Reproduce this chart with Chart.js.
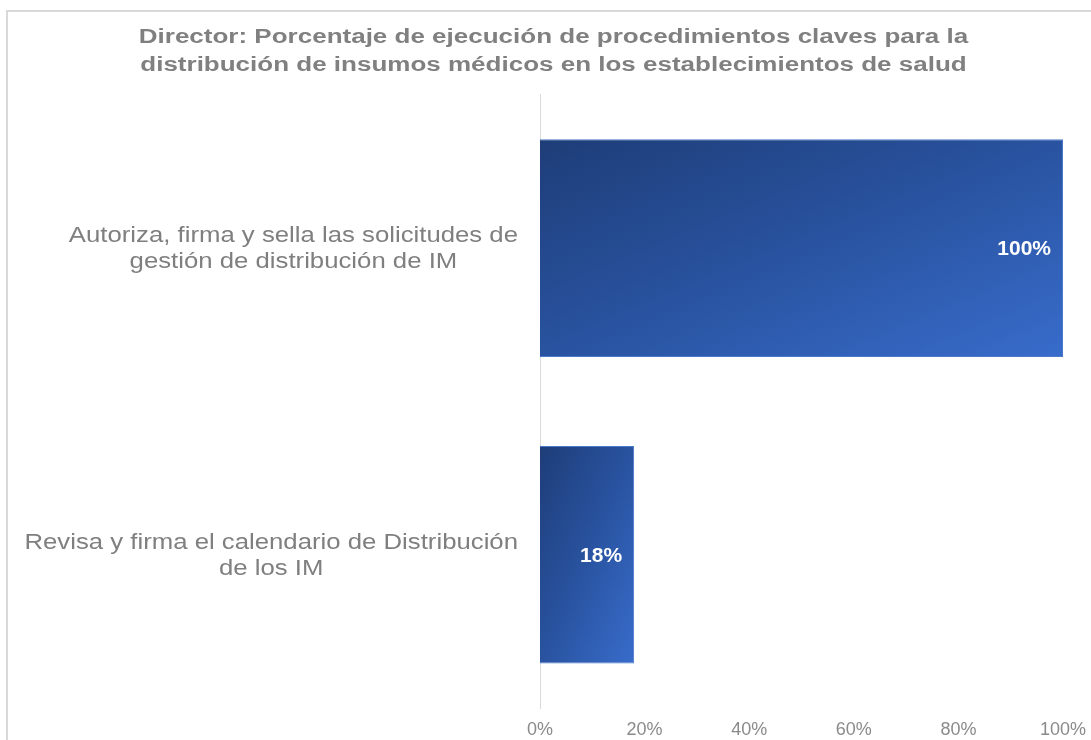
<!DOCTYPE html>
<html>
<head>
<meta charset="utf-8">
<script src="https://cdn.jsdelivr.net/npm/chart.js@4/dist/chart.umd.min.js"></script>
<style>
  html, body { margin: 0; padding: 0; background: #fff; }
  #wrap { position: relative; width: 1091px; height: 740px; }
</style>
</head>
<body>
<div id="wrap"><canvas id="chart"></canvas></div>
<script>
// chart data
const titleLines = [
  'Director: Porcentaje de ejecución de procedimientos claves para la',
  'distribución de insumos médicos en los establecimientos de salud'
];
const categories = [
  ['Autoriza, firma y sella las solicitudes de', 'gestión de distribución de IM'],
  ['Revisa y firma el calendario de Distribución', 'de los IM']
];
const values = [100, 18];
const xTicks = [0, 20, 40, 60, 80, 100];

const FONT = '"Liberation Sans", Arial, sans-serif';
const GREY = '#7f7f7f';
const BAR_PCT = 0.71;
// the source text is drawn a bit wider than the font's natural width
const TITLE_STRETCH = 1.3;
const CAT_STRETCH = 1.17;

// gradient per bar: dark top-left corner to lighter bottom-right corner
function barGradient(ctx) {
  const chart = ctx.chart;
  if (!chart.chartArea || ctx.type !== 'data') return '#2b559f';
  const xs = chart.scales.x, ys = chart.scales.y;
  const x0 = xs.getPixelForValue(0);
  const x1 = xs.getPixelForValue(ctx.raw);
  const yc = ys.getPixelForValue(ctx.dataIndex);
  const H = (ys.height / categories.length) * BAR_PCT;
  const W = x1 - x0;
  const cx = (x0 + x1) / 2;
  const k = W * H / (W * W + H * H);
  const g = chart.ctx.createLinearGradient(cx - H * k, yc - W * k, cx + H * k, yc + W * k);
  g.addColorStop(0, '#1e3d78');
  g.addColorStop(0.5, '#2953a0');
  g.addColorStop(1, '#386ccb');
  return g;
}

function stretchedText(c, text, x, y, sx) {
  c.save();
  c.translate(x, y);
  c.scale(sx, 1);
  c.fillText(text, 0, 0);
  c.restore();
}

const framePlugin = {
  id: 'frame',
  beforeDraw(chart) {
    const c = chart.ctx;
    c.save();
    c.strokeStyle = '#d9d9d9';
    c.lineWidth = 2;
    c.beginPath();
    c.moveTo(7, chart.height);
    c.lineTo(7, 11);
    c.lineTo(chart.width, 11);
    c.stroke();
    c.restore();
  }
};

// title is laid out by Chart.js (transparent) and painted here, stretched
const titlePainter = {
  id: 'titlePainter',
  afterDraw(chart) {
    const tb = chart.titleBlock;
    if (!tb) return;
    const c = chart.ctx;
    const cx = (tb.left + tb.right) / 2;
    c.save();
    c.font = 'bold 20px ' + FONT;
    c.fillStyle = '#808080';
    c.textAlign = 'center';
    c.textBaseline = 'middle';
    titleLines.forEach((l, j) => stretchedText(c, l, cx, tb.top + 23 + 14 + j * 28, TITLE_STRETCH));
    c.restore();
  }
};

// category labels: each block right-aligned, its lines centred
const catLabels = {
  id: 'catLabels',
  afterDraw(chart) {
    const c = chart.ctx, ys = chart.scales.y;
    c.save();
    c.font = '22px ' + FONT;
    c.fillStyle = GREY;
    c.textAlign = 'center';
    c.textBaseline = 'middle';
    categories.forEach((lines, i) => {
      const yc = ys.getPixelForValue(i);
      const w = Math.max(...lines.map(l => c.measureText(l).width)) * CAT_STRETCH;
      const cx = ys.right - 22 - w / 2;
      lines.forEach((l, j) => stretchedText(c, l, cx, yc + 1 + (j - (lines.length - 1) / 2) * 26, CAT_STRETCH));
    });
    c.restore();
  }
};

const valueLabels = {
  id: 'valueLabels',
  afterDatasetsDraw(chart) {
    const c = chart.ctx;
    const meta = chart.getDatasetMeta(0);
    c.save();
    c.font = 'bold 21px ' + FONT;
    c.fillStyle = '#ffffff';
    c.textAlign = 'right';
    c.textBaseline = 'middle';
    meta.data.forEach((bar, i) => {
      c.fillText(values[i] + '%', bar.x - 12, bar.y + 1);
    });
    c.restore();
  }
};

new Chart(document.getElementById('chart'), {
  type: 'bar',
  data: {
    labels: categories,
    datasets: [{
      data: values,
      backgroundColor: barGradient,
      borderColor: '#4a79cc',
      borderWidth: 1,
      categoryPercentage: 1,
      barPercentage: BAR_PCT
    }]
  },
  options: {
    indexAxis: 'y',
    responsive: true,
    maintainAspectRatio: false,
    animation: false,
    layout: { padding: { left: 18, right: 2, top: 0, bottom: 0 } },
    plugins: {
      legend: { display: false },
      tooltip: { enabled: false },
      title: {
        display: true,
        text: titleLines,
        color: 'rgba(0,0,0,0)',
        font: { family: FONT, size: 22, weight: 'bold', lineHeight: 1.27 },
        padding: { top: 23, bottom: 16 }
      }
    },
    scales: {
      x: {
        min: 0,
        max: 100,
        grid: { display: false, drawTicks: false },
        border: { display: false },
        afterBuildTicks: (s) => { s.ticks = xTicks.map(v => ({ value: v })); },
        ticks: {
          color: '#8a8a8a',
          font: { family: FONT, size: 18 },
          padding: 11,
          maxRotation: 0,
          callback: (v) => v + '%'
        },
        afterFit: (s) => { s.height = 32; s.paddingRight = 28; }
      },
      y: {
        grid: { display: false },
        border: { display: true, color: '#d9d9d9', width: 1 },
        ticks: { display: false },
        afterFit: (s) => { s.width = 522; }
      }
    }
  },
  plugins: [framePlugin, titlePainter, catLabels, valueLabels]
});
</script>
</body>
</html>
